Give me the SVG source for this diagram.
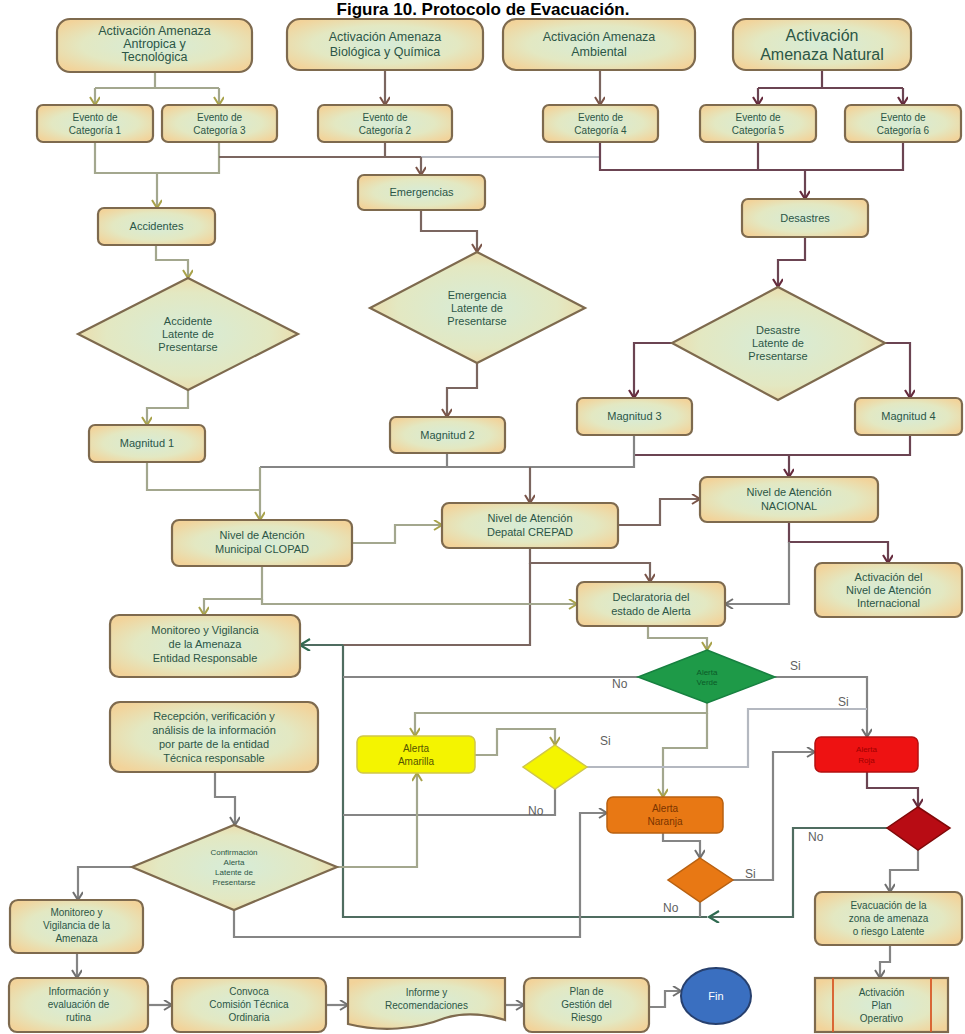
<svg xmlns="http://www.w3.org/2000/svg" width="965" height="1034" viewBox="0 0 965 1034">
<style>
.n{fill:url(#g);stroke:#7e6a4e;stroke-width:2.2}
.t{font-family:"Liberation Sans",Arial,sans-serif;font-size:11px;fill:#2c5646;text-anchor:middle}
.s{font-size:10px}
.xs{font-size:8px}
.big{font-size:12.5px}
.lab{font-family:"Liberation Sans",Arial,sans-serif;font-size:12px;fill:#606060}
.c{fill:none;stroke-width:2.2}
.ol{stroke:#a3a78e}
.br{stroke:#7b6660}
.ma{stroke:#6b4452}
.gr{stroke:#858585}
.dg{stroke:#4f6c60}
.lg{stroke:#b4b8c0}
</style>
<defs>
<radialGradient id="g" cx="50%" cy="50%" r="62%">
<stop offset="0" stop-color="#d6ecd8"/>
<stop offset="0.6" stop-color="#e3e8c2"/>
<stop offset="1" stop-color="#f2d39a"/>
</radialGradient>
<marker id="aol" markerWidth="12" markerHeight="12" refX="9" refY="5" orient="auto" markerUnits="userSpaceOnUse"><path d="M1,0 L9,5 L1,10" fill="none" stroke="#a8a24a" stroke-width="2"/></marker>
<marker id="abr" markerWidth="12" markerHeight="12" refX="9" refY="5" orient="auto" markerUnits="userSpaceOnUse"><path d="M1,0 L9,5 L1,10" fill="none" stroke="#7a5448" stroke-width="2"/></marker>
<marker id="ama" markerWidth="12" markerHeight="12" refX="9" refY="5" orient="auto" markerUnits="userSpaceOnUse"><path d="M1,0 L9,5 L1,10" fill="none" stroke="#652a3c" stroke-width="2.2"/></marker>
<marker id="agr" markerWidth="12" markerHeight="12" refX="9" refY="5" orient="auto" markerUnits="userSpaceOnUse"><path d="M1,0 L9,5 L1,10" fill="none" stroke="#707070" stroke-width="2"/></marker>
<marker id="adg" markerWidth="14" markerHeight="14" refX="11" refY="6" orient="auto" markerUnits="userSpaceOnUse"><path d="M1,0 L11,6 L1,12" fill="none" stroke="#2f6a50" stroke-width="2.2"/></marker>
</defs>
<rect width="965" height="1034" fill="#ffffff"/>
<text x="483" y="15" font-family="Liberation Sans,Arial,sans-serif" font-size="17" font-weight="bold" text-anchor="middle" fill="#000">Figura 10. Protocolo de Evacuación.</text>

<g id="connectors">
<path class="c ol" d="M155,72 V88 M95,88 H219"/>
<path class="c ol" d="M95,88 V105" marker-end="url(#aol)"/>
<path class="c ol" d="M219,88 V105" marker-end="url(#aol)"/>
<path class="c br" d="M385,70 V105" marker-end="url(#abr)"/>
<path class="c br" d="M600,70 V105" marker-end="url(#abr)"/>
<path class="c ma" d="M822,70 V88 M758,88 H903"/>
<path class="c ma" d="M758,88 V105" marker-end="url(#ama)"/>
<path class="c ma" d="M903,88 V105" marker-end="url(#ama)"/>
<path class="c ol" d="M95,142 V173 H219 V142"/>
<path class="c ol" d="M157,173 V208" marker-end="url(#aol)"/>
<path class="c br" d="M219,157 H421 M385,142 V157"/>
<path class="c lg" d="M421,157 H600"/>
<path class="c br" d="M421,157 V175" marker-end="url(#abr)"/>
<path class="c ma" d="M600,142 V170 H903 V142 M758,142 V170"/>
<path class="c ma" d="M805,170 V199" marker-end="url(#ama)"/>
<path class="c ol" d="M156,245 V260 H188 V278" marker-end="url(#aol)"/>
<path class="c ol" d="M188,390 V408 H147 V425" marker-end="url(#aol)"/>
<path class="c br" d="M421,210 V231 H477 V252" marker-end="url(#abr)"/>
<path class="c br" d="M477,363 V388 H447 V417" marker-end="url(#abr)"/>
<path class="c ma" d="M805,237 V260 H778 V287" marker-end="url(#ama)"/>
<path class="c ma" d="M672,343 H634 V398" marker-end="url(#ama)"/>
<path class="c ma" d="M885,343 H910 V398" marker-end="url(#ama)"/>
<path class="c ma" d="M910,435 V455 H634"/>
<path class="c ma" d="M789,455 V477" marker-end="url(#ama)"/>
<path class="c gr" d="M634,435 V467 H260"/>
<path class="c gr" d="M447,453 V467"/>
<path class="c ol" d="M147,462 V490 H260"/>
<path class="c ol" d="M260,467 V520" marker-end="url(#aol)"/>
<path class="c br" d="M530,467 V503" marker-end="url(#abr)"/>
<path class="c ol" d="M352,543 H395 V525 H442" marker-end="url(#aol)"/>
<path class="c br" d="M618,525 H660 V499 H700" marker-end="url(#abr)"/>
<path class="c ma" d="M789,522 V542 H888 V563" marker-end="url(#ama)"/>
<path class="c gr" d="M789,542 V604 H725" marker-end="url(#agr)"/>
<path class="c br" d="M530,548 V563 H650 V582" marker-end="url(#abr)"/>
<path class="c br" d="M530,563 V645 H343"/>
<path class="c ol" d="M262,566 V599 H204 V615" marker-end="url(#aol)"/>
<path class="c ol" d="M262,599 V604 H577" marker-end="url(#aol)"/>
<path class="c ol" d="M648,626 V638 H707 V650" marker-end="url(#aol)"/>
<path class="c dg" d="M343,645 H300" marker-end="url(#adg)"/>
<path class="c dg" d="M707,917 H343 V645"/>
<path class="c gr" d="M638,677 H343"/>
<path class="c gr" d="M775,677 H867 V737" marker-end="url(#agr)"/>
<path class="c ol" d="M707,703 V713 H415 V736" marker-end="url(#aol)"/>
<path class="c ol" d="M707,713 V748 H663 V797" marker-end="url(#aol)"/>
<path class="c ol" d="M475,755 H497 V729 H555 V745" marker-end="url(#aol)"/>
<path class="c lg" d="M587,767 H748 V709 H867"/>
<path class="c gr" d="M555,789 V815 H343"/>
<path class="c ol" d="M337,867 H417 V773" marker-end="url(#aol)"/>
<path class="c gr" d="M234,910 V937 H580 V813 H607" marker-end="url(#agr)"/>
<path class="c gr" d="M663,833 V841 H700 V858" marker-end="url(#agr)"/>
<path class="c gr" d="M733,880 H773 V752 H815" marker-end="url(#agr)"/>
<path class="c gr" d="M700,902 V917"/>
<path class="c ma" d="M867,772 V788 H918 V807" marker-end="url(#ama)"/>
<path class="c dg" d="M887,828 H793 V917 H709" marker-end="url(#adg)"/>
<path class="c gr" d="M918,850 V870 H890 V892" marker-end="url(#agr)"/>
<path class="c gr" d="M890,945 V962 H880 V978" marker-end="url(#agr)"/>
<path class="c gr" d="M215,772 V797 H235 V825" marker-end="url(#agr)"/>
<path class="c gr" d="M132,867 H78 V900" marker-end="url(#agr)"/>
<path class="c gr" d="M77,953 V978" marker-end="url(#agr)"/>
<path class="c gr" d="M148,1005 H172" marker-end="url(#agr)"/>
<path class="c gr" d="M326,1005 H348" marker-end="url(#agr)"/>
<path class="c gr" d="M505,1005 H524" marker-end="url(#agr)"/>
<path class="c gr" d="M649,1007 H665 V991 H681" marker-end="url(#agr)"/>
<text class="lab" x="790" y="670">Si</text>
<text class="lab" x="612" y="688">No</text>
<text class="lab" x="838" y="706">Si</text>
<text class="lab" x="600" y="745">Si</text>
<text class="lab" x="528" y="815">No</text>
<text class="lab" x="745" y="878">Si</text>
<text class="lab" x="663" y="912">No</text>
<text class="lab" x="808" y="841">No</text>
</g>

<g id="a1"><rect class="n" x="57" y="19" width="195" height="53" rx="13"/><text class="t big"><tspan x="154.5" y="35">Activación Amenaza</tspan><tspan x="154.5" y="48">Antropica y</tspan><tspan x="154.5" y="61">Tecnológica</tspan></text></g>
<g id="a2"><rect class="n" x="287" y="19" width="196" height="51" rx="13"/><text class="t big"><tspan x="385" y="41">Activación Amenaza</tspan><tspan x="385" y="56">Biológica y  Química</tspan></text></g>
<g id="a3"><rect class="n" x="503" y="19" width="192" height="51" rx="13"/><text class="t big"><tspan x="599" y="41">Activación Amenaza</tspan><tspan x="599" y="56">Ambiental</tspan></text></g>
<g id="a4"><rect class="n" x="733" y="19" width="178" height="51" rx="13"/><text class="t" style="font-size:16px"><tspan x="822" y="41">Activación</tspan><tspan x="822" y="60">Amenaza Natural</tspan></text></g>

<g id="cat1"><rect class="n" x="37" y="105" width="116" height="37" rx="6"/><text class="t s"><tspan x="95" y="121">Evento de</tspan><tspan x="95" y="134">Categoría 1</tspan></text></g>
<g id="cat3"><rect class="n" x="162" y="105" width="115" height="37" rx="6"/><text class="t s"><tspan x="219.5" y="121">Evento de</tspan><tspan x="219.5" y="134">Categoría 3</tspan></text></g>
<g id="cat2"><rect class="n" x="318" y="105" width="134" height="37" rx="6"/><text class="t s"><tspan x="385" y="121">Evento de</tspan><tspan x="385" y="134">Categoría 2</tspan></text></g>
<g id="cat4"><rect class="n" x="543" y="105" width="115" height="37" rx="6"/><text class="t s"><tspan x="600.5" y="121">Evento de</tspan><tspan x="600.5" y="134">Categoría 4</tspan></text></g>
<g id="cat5"><rect class="n" x="700" y="105" width="116" height="37" rx="6"/><text class="t s"><tspan x="758" y="121">Evento de</tspan><tspan x="758" y="134">Categoría 5</tspan></text></g>
<g id="cat6"><rect class="n" x="845" y="105" width="116" height="37" rx="6"/><text class="t s"><tspan x="903" y="121">Evento de</tspan><tspan x="903" y="134">Categoría 6</tspan></text></g>

<g id="accidentes"><rect class="n" x="98" y="208" width="117" height="37" rx="6"/><text class="t" x="156.5" y="230">Accidentes</text></g>
<g id="emergencias"><rect class="n" x="358" y="175" width="127" height="35" rx="6"/><text class="t" x="421.5" y="196">Emergencias</text></g>
<g id="desastres"><rect class="n" x="742" y="199" width="126" height="38" rx="6"/><text class="t" x="805" y="222">Desastres</text></g>

<g id="d-accidente"><polygon class="n" points="188,278 298,334 188,390 78,334"/><text class="t"><tspan x="188" y="325">Accidente</tspan><tspan x="188" y="338">Latente de</tspan><tspan x="188" y="351">Presentarse</tspan></text></g>
<g id="d-emergencia"><polygon class="n" points="477,252 585,308 477,363 370,308"/><text class="t"><tspan x="477" y="299">Emergencia</tspan><tspan x="477" y="312">Latente de</tspan><tspan x="477" y="325">Presentarse</tspan></text></g>
<g id="d-desastre"><polygon class="n" points="778,287 885,343 778,400 672,343"/><text class="t"><tspan x="778" y="334">Desastre</tspan><tspan x="778" y="347">Latente de</tspan><tspan x="778" y="360">Presentarse</tspan></text></g>

<g id="mag1"><rect class="n" x="89" y="425" width="116" height="37" rx="6"/><text class="t" x="147" y="447">Magnitud 1</text></g>
<g id="mag2"><rect class="n" x="390" y="417" width="115" height="36" rx="6"/><text class="t" x="447.5" y="439">Magnitud 2</text></g>
<g id="mag3"><rect class="n" x="577" y="398" width="115" height="37" rx="6"/><text class="t" x="634.5" y="420">Magnitud  3</text></g>
<g id="mag4"><rect class="n" x="855" y="398" width="107" height="37" rx="6"/><text class="t" x="908.5" y="420">Magnitud 4</text></g>

<g id="municipal"><rect class="n" x="172" y="520" width="180" height="46" rx="7"/><text class="t"><tspan x="262" y="539">Nivel  de  Atención</tspan><tspan x="262" y="553">Municipal CLOPAD</tspan></text></g>
<g id="departamental"><rect class="n" x="442" y="503" width="176" height="45" rx="7"/><text class="t"><tspan x="530" y="522">Nivel  de  Atención</tspan><tspan x="530" y="536">Depatal CREPAD</tspan></text></g>
<g id="nacional"><rect class="n" x="700" y="477" width="178" height="45" rx="7"/><text class="t"><tspan x="789" y="496">Nivel  de  Atención</tspan><tspan x="789" y="510">NACIONAL</tspan></text></g>
<g id="internacional"><rect class="n" x="815" y="563" width="147" height="54" rx="7"/><text class="t"><tspan x="888.5" y="581">Activación del</tspan><tspan x="888.5" y="594">Nivel  de  Atención</tspan><tspan x="888.5" y="607">Internacional</tspan></text></g>
<g id="declaratoria"><rect class="n" x="577" y="582" width="148" height="44" rx="7"/><text class="t"><tspan x="651" y="601">Declaratoria del</tspan><tspan x="651" y="615">estado de Alerta</tspan></text></g>
<g id="monitoreo1"><rect class="n" x="110" y="615" width="190" height="62" rx="9"/><text class="t"><tspan x="205" y="634">Monitoreo y Vigilancia</tspan><tspan x="205" y="648">de la Amenaza</tspan><tspan x="205" y="662">Entidad  Responsable</tspan></text></g>
<g id="recepcion"><rect class="n" x="110" y="702" width="208" height="70" rx="10"/><text class="t"><tspan x="214" y="720">Recepción, verificación y</tspan><tspan x="214" y="734">análisis de la información</tspan><tspan x="214" y="748">por parte de la entidad</tspan><tspan x="214" y="762">Técnica responsable</tspan></text></g>
<g id="d-confirmacion"><polygon class="n" points="234,825 337,867 234,910 132,867"/><text class="t xs"><tspan x="234" y="855">Confirmación</tspan><tspan x="234" y="865">Alerta</tspan><tspan x="234" y="875">Latente de</tspan><tspan x="234" y="885">Presentarse</tspan></text></g>
<g id="monitoreo2"><rect class="n" x="10" y="900" width="133" height="53" rx="8"/><text class="t s"><tspan x="76.5" y="916">Monitoreo y</tspan><tspan x="76.5" y="929">Vigilancia de la</tspan><tspan x="76.5" y="942">Amenaza</tspan></text></g>

<g id="alerta-verde"><polygon points="707,650 775,677 707,703 638,677" fill="#1e9a48" stroke="#178040" stroke-width="1.5"/><text class="t xs" style="fill:#0c5a28"><tspan x="707" y="675">Alerta</tspan><tspan x="707" y="685">Verde</tspan></text></g>
<g id="alerta-amarilla"><rect x="357" y="736" width="118" height="37" rx="6" fill="#f4f400" stroke="#cfc64a" stroke-width="1.5"/><text class="t s" style="fill:#555500"><tspan x="416" y="752">Alerta</tspan><tspan x="416" y="765">Amarilla</tspan></text></g>
<g id="d-amarilla"><polygon points="555,745 587,767 555,789 523,767" fill="#f4f400" stroke="#cfc64a" stroke-width="1.5"/></g>
<g id="alerta-naranja"><rect x="607" y="797" width="116" height="36" rx="6" fill="#e87814" stroke="#b86010" stroke-width="1.5"/><text class="t s" style="fill:#7a3400"><tspan x="665" y="812">Alerta</tspan><tspan x="665" y="825">Naranja</tspan></text></g>
<g id="d-naranja"><polygon points="700,858 733,880 700,902 668,880" fill="#e87814" stroke="#b86010" stroke-width="1.5"/></g>
<g id="alerta-roja"><rect x="815" y="737" width="103" height="35" rx="6" fill="#ee1212" stroke="#b41010" stroke-width="1.5"/><text class="t xs" style="fill:#a00000"><tspan x="866.5" y="752">Alerta</tspan><tspan x="866.5" y="763">Roja</tspan></text></g>
<g id="d-roja"><polygon points="918,807 950,828 918,850 887,828" fill="#b80c14" stroke="#800808" stroke-width="1.5"/></g>

<g id="evacuacion"><rect class="n" x="815" y="892" width="147" height="53" rx="7"/><text class="t s"><tspan x="888.5" y="909">Evacuación de la</tspan><tspan x="888.5" y="922">zona de amenaza</tspan><tspan x="888.5" y="935">o riesgo Latente</tspan></text></g>
<g id="plan-operativo"><rect class="n" x="815" y="978" width="133" height="54"/><path d="M833,978 V1032 M931,978 V1032" stroke="#d85a28" stroke-width="1.8"/><text class="t s"><tspan x="881.5" y="996">Activación</tspan><tspan x="881.5" y="1009">Plan</tspan><tspan x="881.5" y="1022">Operativo</tspan></text></g>

<g id="informacion"><rect class="n" x="9" y="978" width="139" height="54" rx="8"/><text class="t s"><tspan x="78.5" y="995">Información y</tspan><tspan x="78.5" y="1008">evaluación de</tspan><tspan x="78.5" y="1021">rutina</tspan></text></g>
<g id="convoca"><rect class="n" x="172" y="978" width="154" height="54" rx="8"/><text class="t s"><tspan x="249" y="995">Convoca</tspan><tspan x="249" y="1008">Comisión Técnica</tspan><tspan x="249" y="1021">Ordinaria</tspan></text></g>
<g id="informe"><path class="n" d="M348,978 H505 V1020 C485,1014 465,1012 445,1018 C415,1030 380,1032 348,1024 Z"/><text class="t s"><tspan x="426.5" y="996">Informe  y</tspan><tspan x="426.5" y="1009">Recomendaciones</tspan></text></g>
<g id="plan-gestion"><rect class="n" x="524" y="978" width="125" height="54" rx="8"/><text class="t s"><tspan x="586.5" y="995">Plan de</tspan><tspan x="586.5" y="1008">Gestión del</tspan><tspan x="586.5" y="1021">Riesgo</tspan></text></g>
<g id="fin"><ellipse cx="716" cy="996" rx="35" ry="28" fill="#3a6fc0" stroke="#27406e" stroke-width="2"/><text class="t" x="716" y="1000" style="fill:#ffffff">Fin</text></g>
</svg>
